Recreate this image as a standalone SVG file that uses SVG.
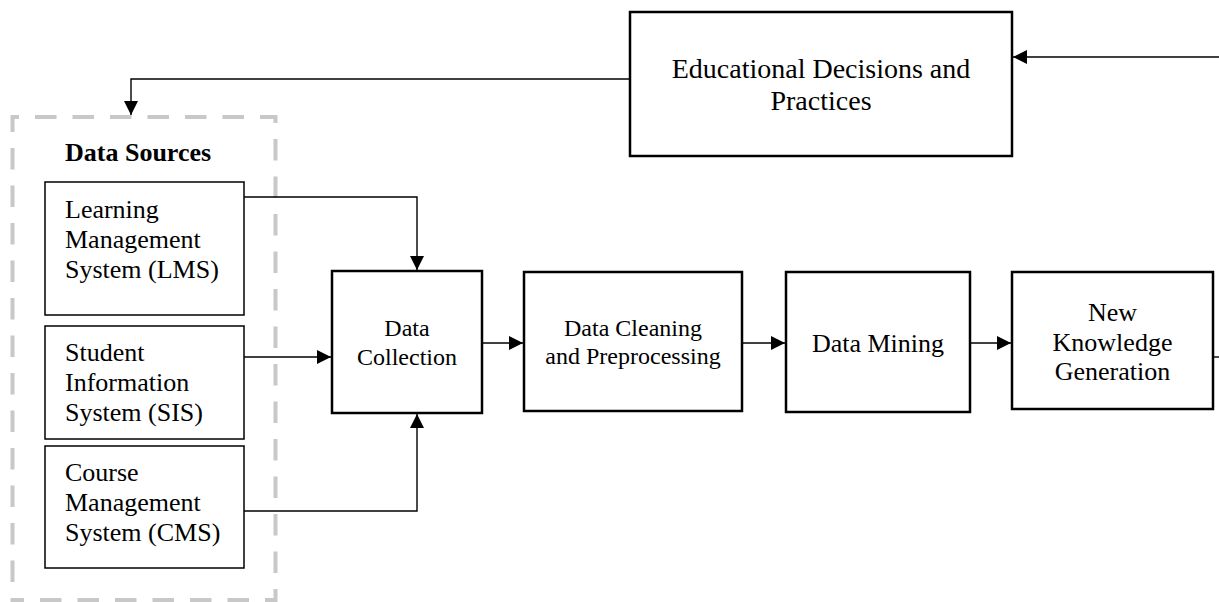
<svg xmlns="http://www.w3.org/2000/svg" width="1219" height="602" viewBox="0 0 1219 602">
<style>
text{font-family:"Liberation Serif","Times New Roman",serif;fill:#000}
.src{fill:#fff;stroke:#000;stroke-width:1.5}
.main{fill:#fff;stroke:#000;stroke-width:2.5}
.conn{fill:none;stroke:#000;stroke-width:1.4}
.t26{font-size:26px}
.t24{font-size:24px}
.t28{font-size:28px}
</style>
<defs>
<marker id="ah" viewBox="0 0 14 14" refX="14" refY="7" markerWidth="14" markerHeight="14" markerUnits="userSpaceOnUse" orient="auto">
<path d="M0,0 L14,7 L0,14 Z" fill="#000"/>
</marker>
</defs>
<rect width="1219" height="602" fill="#fff"/>

<g id="data-sources">
<path d="M12.5,600 V117 H275.5 V600 Z" fill="none" stroke="#c8c8c8" stroke-width="4" stroke-dasharray="21.5 16" stroke-dashoffset="19.5"/>
<text x="65" y="161" font-size="26" font-weight="bold">Data Sources</text>
</g>

<g id="lms">
<rect class="src" x="45" y="182" width="199" height="133"/>
<text class="t26" x="65" y="218">Learning</text>
<text class="t26" x="65" y="248">Management</text>
<text class="t26" x="65" y="278">System (LMS)</text>
</g>

<g id="sis">
<rect class="src" x="45" y="326" width="199" height="113"/>
<text class="t26" x="65" y="361">Student</text>
<text class="t26" x="65" y="391">Information</text>
<text class="t26" x="65" y="421">System (SIS)</text>
</g>

<g id="cms">
<rect class="src" x="45" y="446" width="199" height="122"/>
<text class="t26" x="65" y="481">Course</text>
<text class="t26" x="65" y="511">Management</text>
<text class="t26" x="65" y="541">System (CMS)</text>
</g>

<g id="educational-decisions">
<rect class="main" x="630" y="12" width="382" height="144"/>
<text class="t28" x="821" y="78" text-anchor="middle">Educational Decisions and</text>
<text class="t28" x="821" y="110" text-anchor="middle">Practices</text>
</g>

<g id="data-collection">
<rect class="main" x="332" y="271" width="150" height="142"/>
<text class="t24" x="407" y="336" text-anchor="middle">Data</text>
<text class="t24" x="407" y="365" text-anchor="middle">Collection</text>
</g>

<g id="data-cleaning">
<rect class="main" x="524" y="272" width="218" height="139"/>
<text class="t24" x="633" y="336" text-anchor="middle">Data Cleaning</text>
<text class="t24" x="633" y="364" text-anchor="middle">and Preprocessing</text>
</g>

<g id="data-mining">
<rect class="main" x="786" y="272" width="184" height="140"/>
<text class="t26" x="878" y="352" text-anchor="middle">Data Mining</text>
</g>

<g id="new-knowledge">
<rect class="main" x="1012" y="272" width="201" height="137"/>
<text class="t26" x="1112.5" y="321" text-anchor="middle">New</text>
<text class="t26" x="1112.5" y="351" text-anchor="middle">Knowledge</text>
<text class="t26" x="1112.5" y="380" text-anchor="middle">Generation</text>
</g>

<g id="connectors">
<path class="conn" d="M1219,57 H1013" marker-end="url(#ah)"/>
<path class="conn" d="M630,79 H131 V115" marker-end="url(#ah)"/>
<path class="conn" d="M244,197 H417 V270" marker-end="url(#ah)"/>
<path class="conn" d="M244,357 H331" marker-end="url(#ah)"/>
<path class="conn" d="M244,511 H417 V414" marker-end="url(#ah)"/>
<path class="conn" d="M482,343 H523" marker-end="url(#ah)"/>
<path class="conn" d="M742,343 H785" marker-end="url(#ah)"/>
<path class="conn" d="M970,343 H1011" marker-end="url(#ah)"/>
<path class="conn" d="M1213,357 H1219"/>
</g>
</svg>
